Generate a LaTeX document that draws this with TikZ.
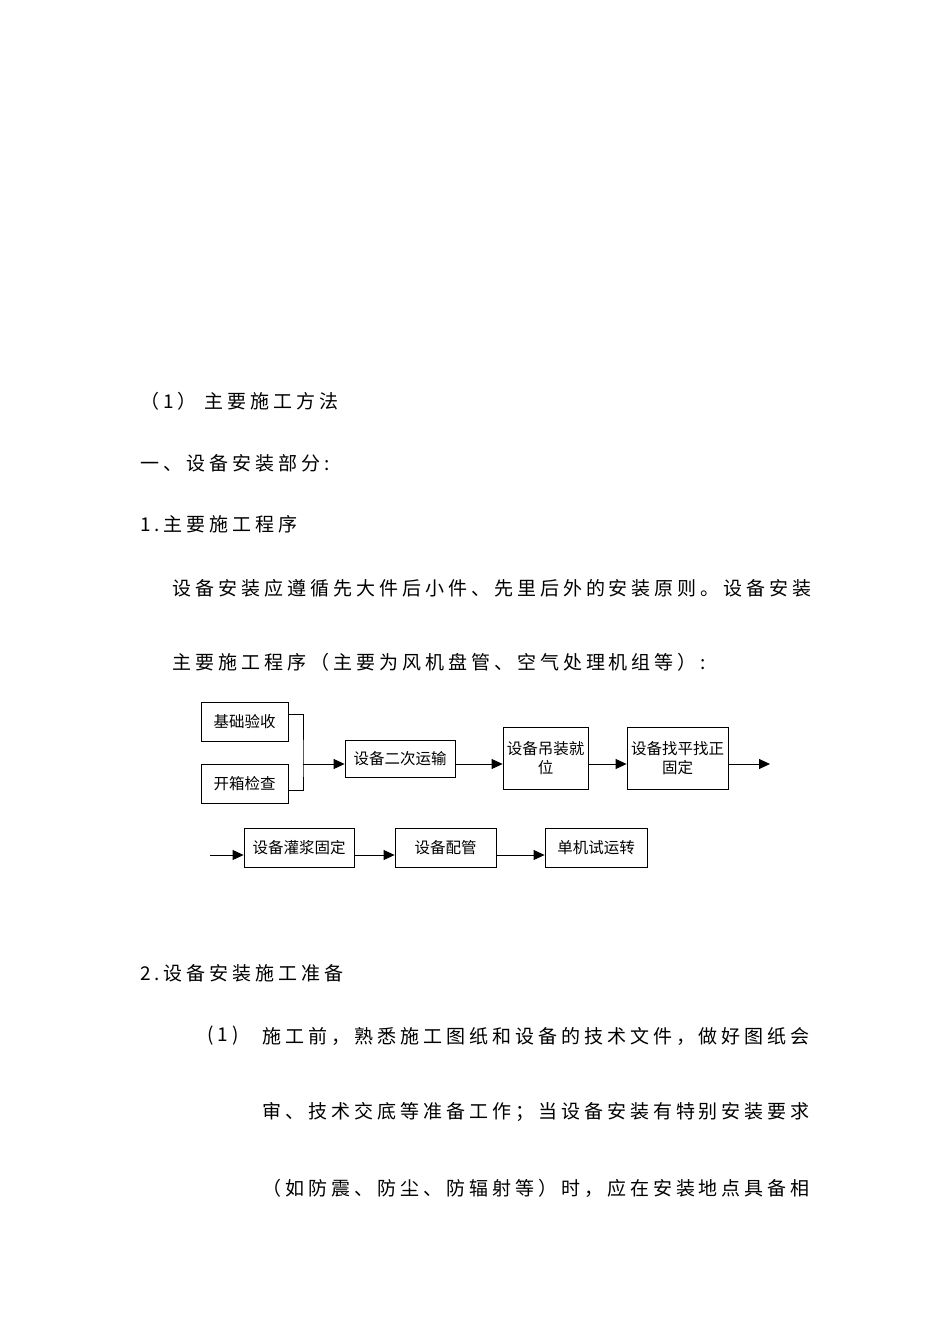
\documentclass[tikz,border=0pt]{standalone}
\usepackage{fontspec}
\setmainfont{Liberation Serif}
\newfontfamily\cjk{Noto Sans CJK SC}[LetterSpace=21]
\newfontfamily\cjkb{Noto Sans CJK SC}
\usetikzlibrary{arrows.meta}
\begin{document}
\begin{tikzpicture}[x=1pt,y=-1pt,
  txt/.style={anchor=west,inner sep=0pt,font=\cjk\fontsize{19}{19}\selectfont},
  bx/.style={draw,line width=0.8pt,inner sep=1pt,align=center,font=\cjkb\fontsize{15.5}{19}\selectfont},
  arr/.style={-{Triangle[length=11pt,width=10pt]},line width=0.8pt}]
\useasboundingbox (0,0) rectangle (950,1344);
\node[txt] (t1) at (140,401) {（1） 主要施工方法};
\node[txt] (t2) at (140,463) {一、设备安装部分:};
\node[txt] (t3) at (140,524) {1.主要施工程序};
\node[txt] (t4) at (172,588) {设备安装应遵循先大件后小件、先里后外的安装原则。设备安装};
\node[txt] (t5) at (172,662) {主要施工程序（主要为风机盘管、空气处理机组等）:};
\node[txt] (t6) at (140,973) {2.设备安装施工准备};
\node[txt] (t7) at (207,1036) {(1)};
\node[txt] (t8) at (262,1036) {施工前，熟悉施工图纸和设备的技术文件，做好图纸会};
\node[txt] (t9) at (262,1112) {审、技术交底等准备工作；当设备安装有特别安装要求};
\node[txt] (t10) at (262,1188) {（如防震、防尘、防辐射等）时，应在安装地点具备相};

\node[bx,minimum width=87,minimum height=39] (b1) at (244.5,721.5) {基础验收};
\node[bx,minimum width=87,minimum height=39] (b2) at (244.5,783.5) {开箱检查};
\node[bx,minimum width=110,minimum height=37] (b3) at (400,758.5) {设备二次运输};
\node[bx,text width=83,minimum height=62] (b4) at (545.5,758) {设备吊装就\\位};
\node[bx,text width=99,minimum height=62] (b5) at (677.5,758) {设备找平找正\\固定};
\coordinate (e1) at (770,764);
\node[bx,minimum width=110,minimum height=39] (b6) at (299,847.5) {设备灌浆固定};
\node[bx,minimum width=101,minimum height=39] (b7) at (445.5,847.5) {设备配管};
\node[bx,minimum width=102,minimum height=39] (b8) at (596,847.5) {单机试运转};
\coordinate (s2) at (210,855);
\coordinate (j) at (303,764);

\draw[line width=0.8pt] (b1.east|-0,714) -| (j) |- (b2.east|-0,790);
\draw[arr] (j) -- (b3.west|-j);
\draw[arr] (b3.east|-j) -- (b4.west|-j);
\draw[arr] (b4.east|-j) -- (b5.west|-j);
\draw[arr] (b5.east|-j) -- (e1);
\draw[arr] (s2) -- (b6.west|-s2);
\draw[arr] (b6.east|-s2) -- (b7.west|-s2);
\draw[arr] (b7.east|-s2) -- (b8.west|-s2);
\end{tikzpicture}
\end{document}
